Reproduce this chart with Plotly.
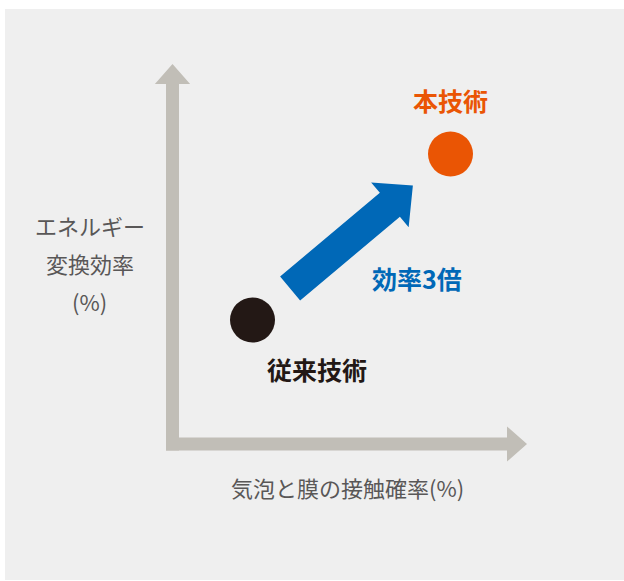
import numpy as np
import plotly.graph_objects as go

# ---- data ----
techs = ["従来技術", "本技術"]
contact_prob = [2.0, 6.95]      # x: 気泡と膜の接触確率 (arbitrary units)
efficiency = [3.1, 7.25]        # y: エネルギー変換効率 (arbitrary units)
point_colors = ["#231815", "#ea5504"]
gain_label = "効率3倍"
x_title = "気泡と膜の接触確率(%)"
y_title_lines = ["エネルギー", "変換効率", "(%)"]

# ---- layout constants ----
W, H = 624, 581
X_RANGE = [-4.3125, 11.2875]
Y_RANGE = [-3.425, 11.1]
FONT = "Noto Sans CJK JP"
AXIS_COLOR = "#c1beb7"
BG = "#efefef"
TEXT_GRAY = "#595757"
BLUE = "#0068b7"


def poly(pts):
    return "M " + " L ".join(f"{x:.4f},{y:.4f}" for x, y in pts) + " Z"


shapes = []
# background panel
shapes.append(dict(type="rect", xref="paper", yref="paper",
                   x0=5 / W, x1=1, y0=1 / H, y1=1 - 9 / H,
                   fillcolor=BG, line=dict(width=0), layer="below"))

# axis arrows (drawn in axis units)
sw = 0.1625   # shaft half width
hw = 0.44     # head half width
v_head, v_tip = 9.0, 9.5
h_head, h_tip = 8.3625, 8.8625
shapes.append(dict(type="path", xref="x", yref="y", layer="below",
                   path=poly([(-sw, -sw), (sw, -sw), (sw, v_head), (hw, v_head),
                              (0, v_tip), (-hw, v_head), (-sw, v_head)]),
                   fillcolor=AXIS_COLOR, line=dict(width=0)))
shapes.append(dict(type="path", xref="x", yref="y", layer="below",
                   path=poly([(-sw, -sw), (-sw, sw), (h_head, sw), (h_head, hw),
                              (h_tip, 0), (h_head, -hw), (h_head, -sw)]),
                   fillcolor=AXIS_COLOR, line=dict(width=0)))

# blue improvement arrow between the two technologies
p0 = np.array([contact_prob[0], efficiency[0]])
p1 = np.array([contact_prob[1], efficiency[1]])
d = p1 - p0
u = d / np.linalg.norm(d)
n = np.array([-u[1], u[0]])
tail = p0 + 0.19 * d
tip = p0 + 0.81 * d
base = tip - 0.75 * u
aw, ahw = 0.39, 0.73
arrow = [tail - aw * n, base - aw * n, base - ahw * n, tip,
         base + ahw * n, base + aw * n, tail + aw * n]
shapes.append(dict(type="path", xref="x", yref="y", layer="below",
                   path=poly([tuple(p) for p in arrow]),
                   fillcolor=BLUE, line=dict(width=0)))

fig = go.Figure()
fig.add_trace(go.Scatter(
    x=contact_prob, y=efficiency, mode="markers",
    marker=dict(size=45, color=point_colors, line=dict(width=0)),
    hoverinfo="skip", showlegend=False))

annotations = []
# point labels
annotations.append(dict(x=contact_prob[0], y=efficiency[0], xref="x", yref="y",
                        text=techs[0], showarrow=False, xshift=64, yshift=-49,
                        font=dict(family=FONT, size=25, color="#231815", weight="bold")))
annotations.append(dict(x=contact_prob[1], y=efficiency[1], xref="x", yref="y",
                        text=techs[1], showarrow=False, yshift=54,
                        font=dict(family=FONT, size=25, color="#ea5504", weight="bold")))
mid = p0 + 0.5 * d
annotations.append(dict(x=mid[0], y=mid[1], xref="x", yref="y",
                        text=gain_label, showarrow=False, xshift=65, yshift=-41,
                        font=dict(family=FONT, size=25, color=BLUE, weight="bold")))
# axis titles
for line, ypx in zip(y_title_lines, [225, 263, 301]):
    annotations.append(dict(x=90 / W, y=1 - ypx / H, xref="paper", yref="paper",
                            text=line, showarrow=False, xanchor="center", yanchor="middle",
                            font=dict(family=FONT, size=22, color=TEXT_GRAY)))
annotations.append(dict(x=347 / W, y=1 - 487 / H, xref="paper", yref="paper",
                        text=x_title, showarrow=False, xanchor="center", yanchor="middle",
                        font=dict(family=FONT, size=22, color=TEXT_GRAY)))

fig.update_layout(
    width=W, height=H, autosize=False,
    margin=dict(l=0, r=0, t=0, b=0),
    paper_bgcolor="white", plot_bgcolor="rgba(0,0,0,0)",
    shapes=shapes, annotations=annotations,
    xaxis=dict(range=X_RANGE, visible=False, fixedrange=True),
    yaxis=dict(range=Y_RANGE, visible=False, fixedrange=True),
)

fig.write_html("out.html", config={"displayModeBar": False},
               post_script="document.body.style.margin='0';document.body.style.overflow='hidden';")
